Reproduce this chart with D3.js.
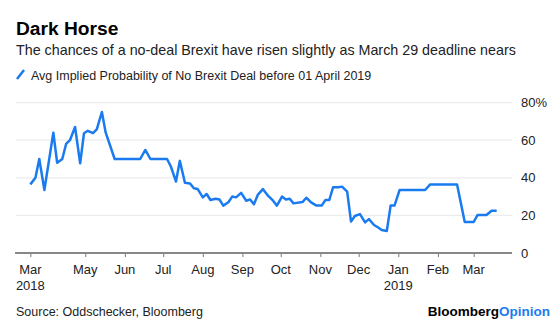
<!DOCTYPE html>
<html>
<head>
<meta charset="utf-8">
<script src="https://cdn.jsdelivr.net/npm/d3@7"></script>
<style>
  body { margin: 0; background: #fff; }
  svg { display: block; font-family: "Liberation Sans", Arial, sans-serif; }
</style>
</head>
<body>
<div class="viz"></div>
<script>
// data
var dates = ["2018-03-19","2018-03-23","2018-03-26","2018-03-30","2018-04-06","2018-04-09","2018-04-13",
    "2018-04-16","2018-04-19","2018-04-23","2018-04-27","2018-04-30","2018-05-03","2018-05-07","2018-05-10",
    "2018-05-14","2018-05-17","2018-05-24","2018-06-13","2018-06-17","2018-06-21","2018-07-04","2018-07-07",
    "2018-07-11","2018-07-14","2018-07-18","2018-07-22","2018-07-25","2018-07-28","2018-08-01","2018-08-04",
    "2018-08-07","2018-08-11","2018-08-14","2018-08-17","2018-08-21","2018-08-24","2018-08-27","2018-08-31",
    "2018-09-04","2018-09-07","2018-09-10","2018-09-13","2018-09-17","2018-09-21","2018-09-25","2018-09-28",
    "2018-10-02","2018-10-05","2018-10-08","2018-10-11","2018-10-18","2018-10-21","2018-10-25","2018-10-29",
    "2018-11-02","2018-11-05","2018-11-08","2018-11-11","2018-11-15","2018-11-18","2018-11-22","2018-11-25",
    "2018-11-28","2018-12-02","2018-12-06","2018-12-09","2018-12-13","2018-12-16","2018-12-19","2018-12-23",
    "2018-12-26","2018-12-29","2019-01-02","2019-01-22","2019-01-26","2019-02-16","2019-02-19","2019-02-22",
    "2019-03-01","2019-03-04","2019-03-11","2019-03-15","2019-03-19"];
var probability = [36.5,40,50,33.5,64,48,50,
    58,60,67,47.7,63.7,65,63.7,65.8,
    75,64,50,50,54.8,50,50,46,
    38,49,37.4,37,34.4,34,29.6,31.4,
    28.2,28.9,28.5,25.2,27,30,29.6,32,
    27.8,28.5,25.9,30.9,34,30.5,27.8,25.2,
    30,28.5,28.9,26.4,27.1,29.4,26.8,25.2,
    25.2,28.2,28.2,35,35,35.3,32.6,16.7,
    19.7,20.7,16.3,18,14.9,13.7,12.2,11.7,
    25.2,25.2,33.5,33.5,36.5,36.5,26.4,16.5,
    16.5,20.2,20.2,22.5,22.5];

var xTickDates = ["2018-03-19","2018-05-01","2018-06-01","2018-07-01","2018-08-01","2018-09-01",
    "2018-10-01","2018-11-01","2018-12-01","2019-01-01","2019-02-01","2019-03-01"];
var xTickMonths = ["Mar","May","Jun","Jul","Aug","Sep","Oct","Nov","Dec","Jan","Feb","Mar"];
var xTickYears = ["2018","","","","","","","","","2019","",""];
var yTicks = [0, 20, 40, 60, 80];

var width = 560, height = 325;
var blue = "#1a7bf0";
var parse = d3.timeParse("%Y-%m-%d");

var series = dates.map(function (d, i) { return { date: parse(d), value: probability[i] }; });

var svg = d3.select('.viz').append('svg')
    .attr('width', width)
    .attr('height', height);

var x = d3.scaleTime()
    .domain([parse("2018-03-07"), parse("2019-03-31")])
    .range([15, 512]);

var y = d3.scaleLinear()
    .domain([0, 80])
    .range([253, 102.6]);

// titles
svg.append('text')
    .attr('x', 16).attr('y', 35)
    .attr('font-size', 19.2).attr('font-weight', 'bold').attr('fill', '#000')
    .text('Dark Horse');

svg.append('text')
    .attr('x', 16).attr('y', 55)
    .attr('font-size', 14.3).attr('fill', '#222')
    .text('The chances of a no-deal Brexit have risen slightly as March 29 deadline nears');

// legend
svg.append('line')
    .attr('x1', 17).attr('y1', 79).attr('x2', 24).attr('y2', 70)
    .attr('stroke', blue).attr('stroke-width', 2.5);
svg.append('text')
    .attr('x', 31).attr('y', 79.5)
    .attr('font-size', 12.5).attr('fill', '#222')
    .text('Avg Implied Probability of No Brexit Deal before 01 April 2019');

// gridlines
svg.append('g')
    .selectAll('line')
    .data(yTicks.filter(function (d) { return d > 0; }))
    .enter().append('line')
    .attr('x1', 16).attr('x2', 512)
    .attr('y1', function (d) { return y(d); })
    .attr('y2', function (d) { return y(d); })
    .attr('stroke', '#ececec').attr('stroke-width', 1.2);

// y labels on the right
svg.append('g')
    .selectAll('text')
    .data(yTicks)
    .enter().append('text')
    .attr('x', 521)
    .attr('y', function (d) { return y(d); })
    .attr('dy', '0.35em')
    .attr('font-size', 13).attr('fill', '#222')
    .text(function (d) { return d === 80 ? d + '%' : d; });

// x axis
var xAxis = d3.axisBottom(x)
    .tickValues(xTickDates.map(parse))
    .tickSize(4)
    .tickFormat('');

var gx = svg.append('g')
    .attr('transform', 'translate(0,' + y(0) + ')')
    .call(xAxis);
gx.select('.domain').remove();
gx.selectAll('.tick line').attr('stroke', '#777');

svg.append('line')
    .attr('x1', 15).attr('x2', 512)
    .attr('y1', y(0)).attr('y2', y(0))
    .attr('stroke', '#888').attr('stroke-width', 2);

var labels = svg.append('g')
    .selectAll('g')
    .data(xTickDates)
    .enter().append('g')
    .attr('transform', function (d) { return 'translate(' + x(parse(d)) + ',0)'; });
labels.append('text')
    .attr('y', 274).attr('text-anchor', 'middle')
    .attr('font-size', 13).attr('fill', '#222')
    .text(function (d, i) { return xTickMonths[i]; });
labels.append('text')
    .attr('y', 290).attr('text-anchor', 'middle')
    .attr('font-size', 13).attr('fill', '#222')
    .text(function (d, i) { return xTickYears[i]; });

// the line
var line = d3.line()
    .x(function (d) { return x(d.date); })
    .y(function (d) { return y(d.value); });

svg.append('path')
    .datum(series)
    .attr('d', line)
    .attr('fill', 'none')
    .attr('stroke', blue)
    .attr('stroke-width', 2.5)
    .attr('stroke-linejoin', 'round');

// footer
svg.append('text')
    .attr('x', 16).attr('y', 316)
    .attr('font-size', 12.5).attr('fill', '#222')
    .text('Source: Oddschecker, Bloomberg');

var logo = svg.append('text')
    .attr('x', 550).attr('y', 316)
    .attr('text-anchor', 'end')
    .attr('font-size', 13.5).attr('font-weight', 'bold');
logo.append('tspan').attr('fill', '#000').text('Bloomberg');
logo.append('tspan').attr('fill', blue).text('Opinion');
</script>
</body>
</html>
